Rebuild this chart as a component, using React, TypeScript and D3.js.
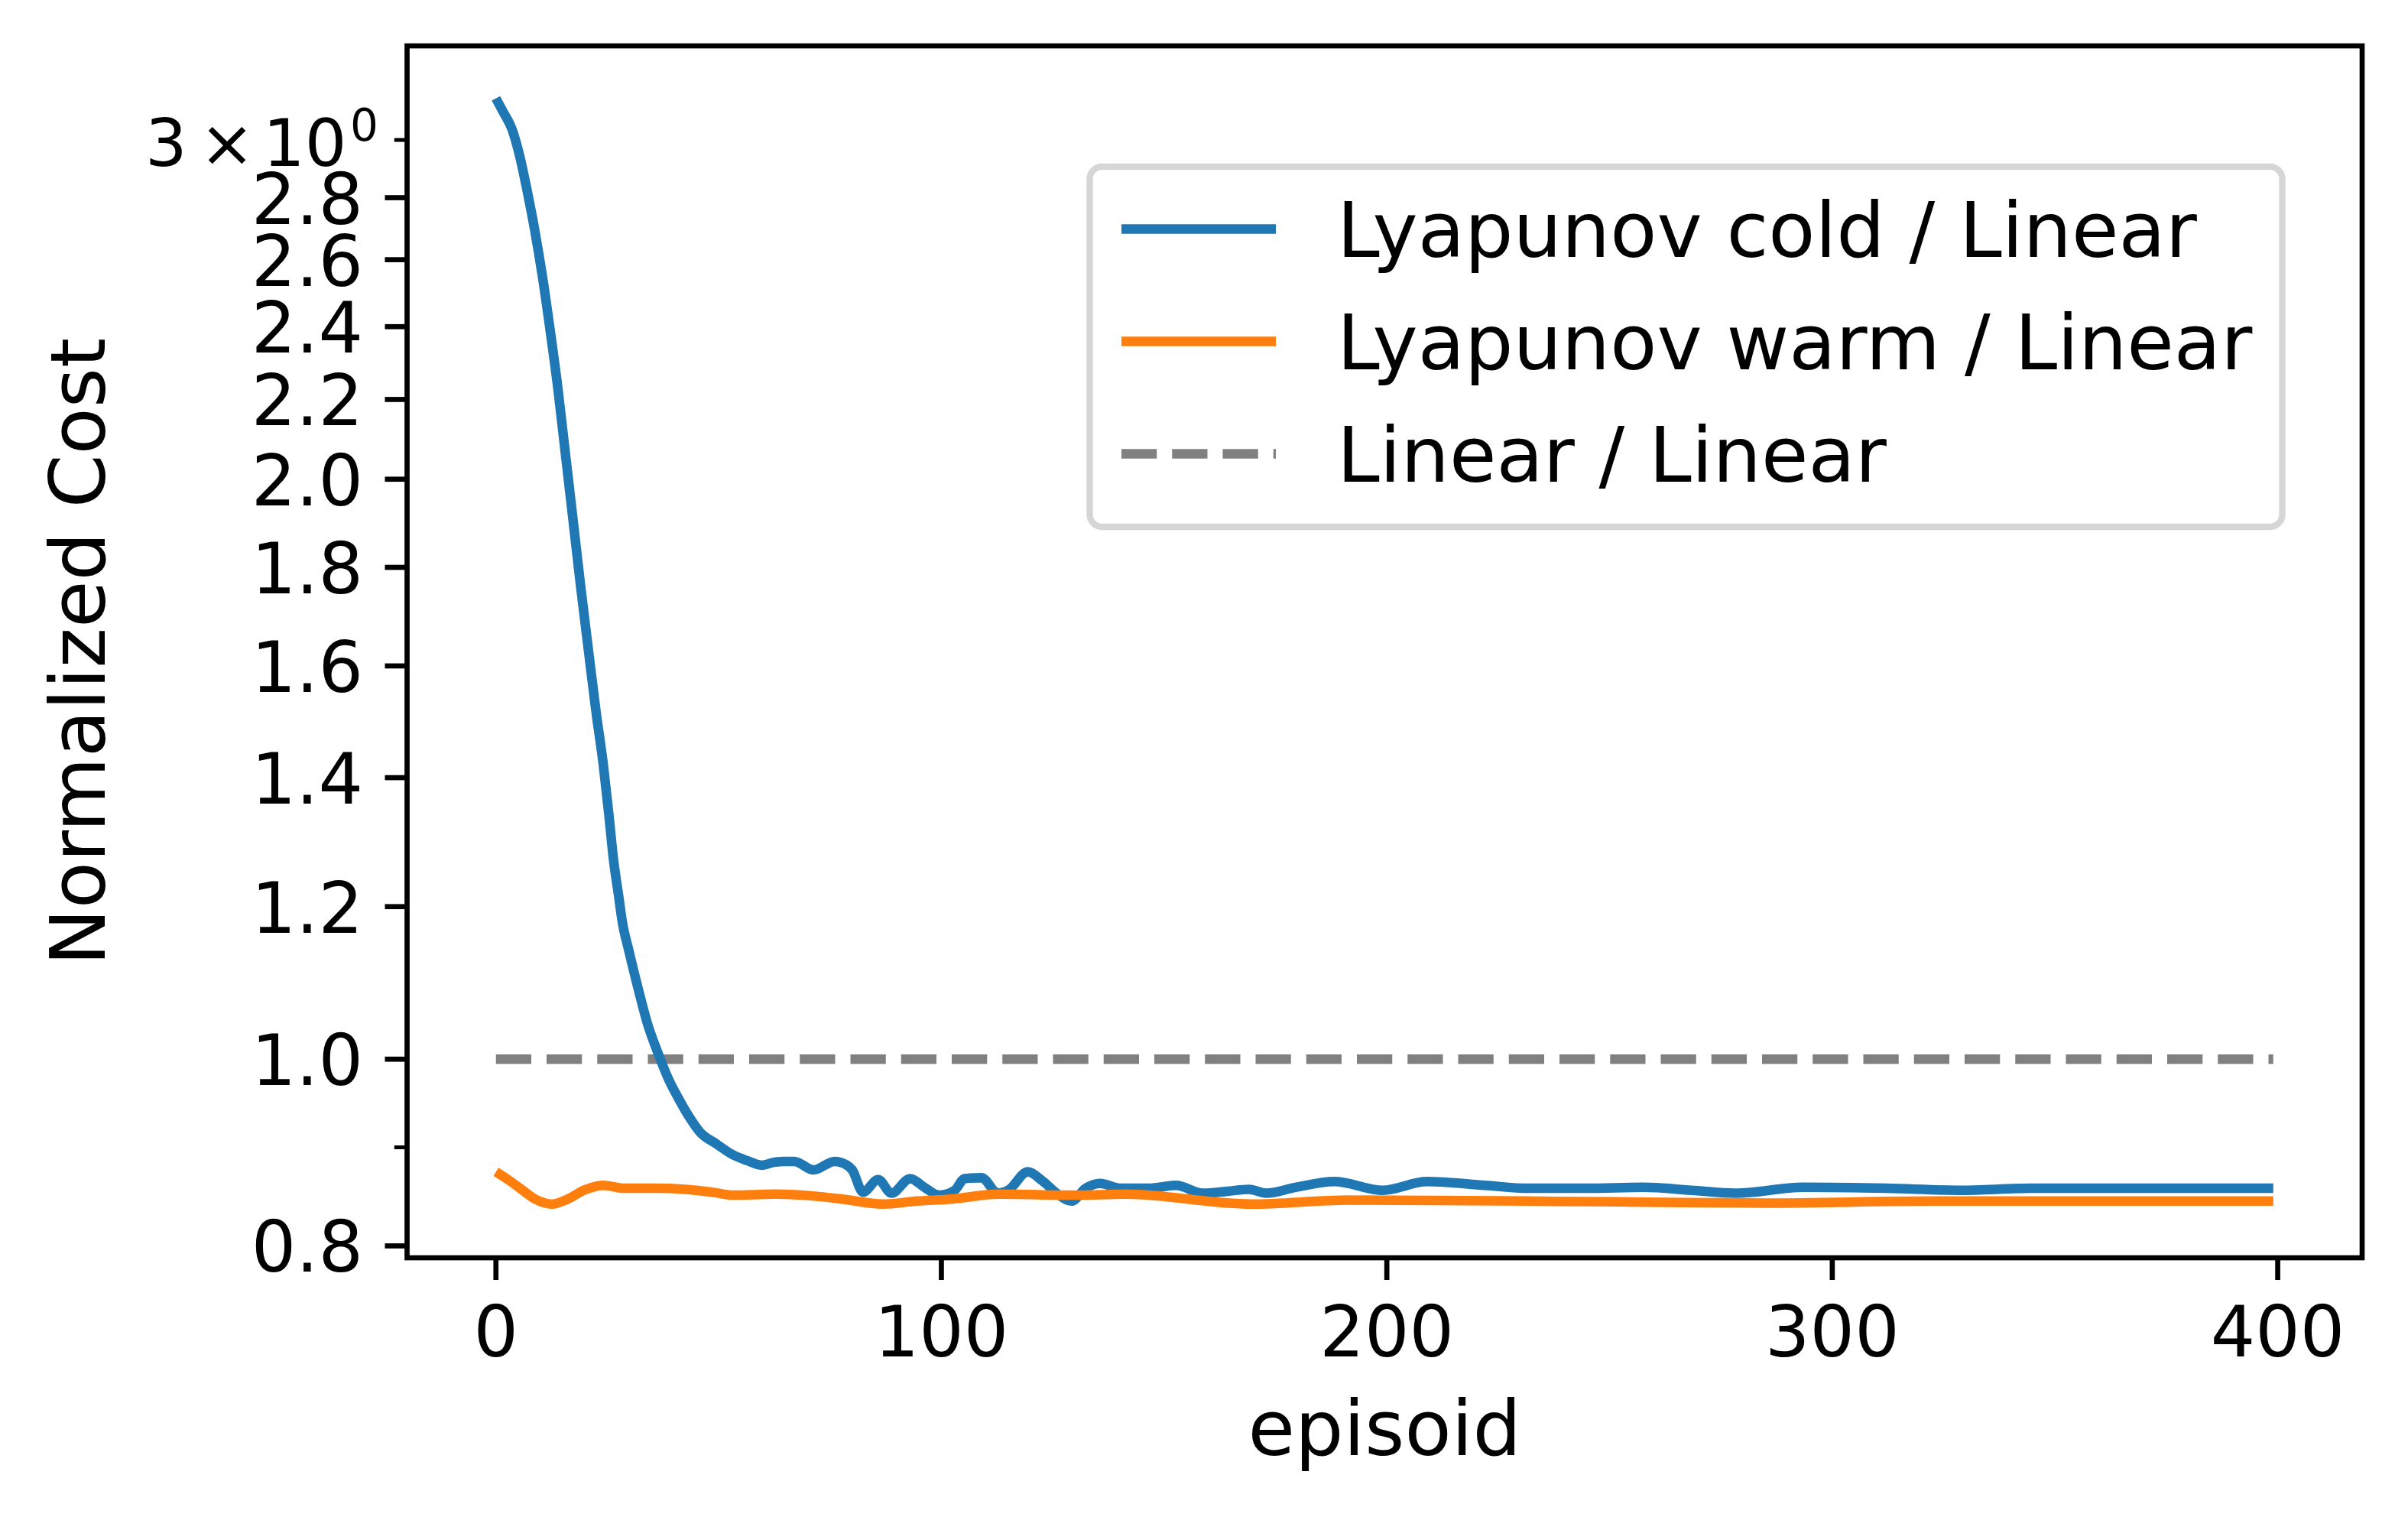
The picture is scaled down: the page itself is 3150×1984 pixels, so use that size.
import React from 'react'
import * as d3 from 'd3'

// values (episode -> normalized cost)
const coldEpisodes = [
  0, 1.6, 3.6, 5.3, 7.0, 8.7, 10.5, 12.2, 13.9, 15.6, 17.3, 19.0, 20.8, 22.5, 24.1, 25.3, 26.4, 27.6, 28.3,
  29.9, 31.8, 34.1, 36.4, 38.7, 41.0, 43.3, 45.9, 49.4, 53.2, 56.3, 59.7, 62.4, 64.6, 67, 71.3, 76, 78.8, 80,
  82.4, 85.8, 88.8, 93, 96.2, 99.5, 103, 105.2, 109, 112.7, 115, 119.4, 122.6, 125.9, 129.2, 132.4, 135.7,
  140.1, 146.6, 152.7, 158.7, 164.2, 169.1, 172.9, 179.5, 188.2, 199.1, 209, 222.1, 231.7, 245, 257.5, 268.4,
  278.2, 293.5, 312.1, 328.5, 344.9, 377.7, 399,
]
const coldCost = [
  3.153, 3.103, 3.039, 2.945, 2.824, 2.694, 2.543, 2.387, 2.23, 2.061, 1.906, 1.761, 1.628, 1.513, 1.422,
  1.343, 1.269, 1.213, 1.181, 1.137, 1.091, 1.042, 1.007, 0.977, 0.954, 0.934, 0.916, 0.904, 0.892, 0.886,
  0.881, 0.884, 0.885, 0.885, 0.876, 0.885, 0.881, 0.876, 0.853, 0.866, 0.852, 0.867, 0.858, 0.85, 0.855,
  0.867, 0.868, 0.852, 0.855, 0.874, 0.865, 0.852, 0.844, 0.857, 0.862, 0.857, 0.857, 0.86, 0.852, 0.854,
  0.856, 0.852, 0.858, 0.864, 0.855, 0.864, 0.86, 0.857, 0.857, 0.858, 0.855, 0.852, 0.858, 0.857, 0.855,
  0.857, 0.857, 0.857,
]
const warmEpisodes = [
  0, 2.7, 5.7, 8.8, 12.6, 15.6, 20.3, 24.1, 28.7, 35.6, 42.5, 48.6, 53.2, 62.4, 71.6, 77.7, 86.9, 94.5,
  102.2, 112.8, 130.2, 141.2, 169.6, 191.5, 231.7, 257.5, 284.8, 323, 399,
]
const warmCost = [
  0.874, 0.866, 0.856, 0.846, 0.841, 0.845, 0.856, 0.86, 0.857, 0.857, 0.856, 0.853, 0.85, 0.851, 0.849,
  0.846, 0.841, 0.844, 0.846, 0.851, 0.85, 0.851, 0.841, 0.845, 0.844, 0.843, 0.842, 0.844, 0.844,
]
const linearEpisodes = [0, 399]
const linearCost = [1, 1]

const xTicks = [0, 100, 200, 300, 400]
const yMajorTicks = [0.8, 1.0, 1.2, 1.4, 1.6, 1.8, 2.0, 2.2, 2.4, 2.6, 2.8]
const yMinorTicks = [0.9, 3]
const seriesLabels = ['Lyapunov cold / Linear', 'Lyapunov warm / Linear', 'Linear / Linear']
const seriesColors = ['#1f77b4', '#ff7f0e', '#808080']

const W = 3150
const H = 1984
const plot = { left: 532.5, right: 3090, top: 60, bottom: 1645 }
const font = 'DejaVu Sans, sans-serif'

export default function App() {
  const x = d3.scaleLinear().domain([-19.95, 418.95]).range([plot.left, plot.right])
  const y = d3.scaleLog().domain([0.7887, 3.357]).range([plot.bottom, plot.top])

  const line = d3
    .line<[number, number]>()
    .x((d) => x(d[0]))
    .y((d) => y(d[1]))
    .curve(d3.curveMonotoneX)

  const series = [
    { pts: coldEpisodes.map((e, i) => [e, coldCost[i]] as [number, number]), dash: undefined },
    { pts: warmEpisodes.map((e, i) => [e, warmCost[i]] as [number, number]), dash: undefined },
    { pts: linearEpisodes.map((e, i) => [e, linearCost[i]] as [number, number]), dash: '46.25,20' },
  ]
  const drawOrder = [2, 0, 1]

  const fmt = d3.format('.1f')
  const legend = { x: 1425.5, y: 218, w: 1560, h: 471 }

  return (
    <div style={{ position: 'absolute', left: 0, top: 0 }}>
      <svg width={W} height={H} viewBox={`0 0 ${W} ${H}`} style={{ display: 'block', background: '#fff' }}>
        <defs>
          <clipPath id="plot-clip">
            <rect x={plot.left} y={plot.top} width={plot.right - plot.left} height={plot.bottom - plot.top} />
          </clipPath>
        </defs>
        <rect x={0} y={0} width={W} height={H} fill="#fff" />

        <g clipPath="url(#plot-clip)">
          {drawOrder.map((i) => (
            <path
              key={`line-${i}`}
              d={line(series[i].pts) || ''}
              fill="none"
              stroke={seriesColors[i]}
              strokeWidth={12.5}
              strokeDasharray={series[i].dash}
            />
          ))}
        </g>

        {/* x axis */}
        {xTicks.map((t) => (
          <g key={`xt-${t}`}>
            <line x1={x(t)} x2={x(t)} y1={plot.bottom} y2={plot.bottom + 29} stroke="#000" strokeWidth={6.67} />
            <text x={x(t)} y={1774} textAnchor="middle" fontFamily={font} fontSize={92}>
              {t}
            </text>
          </g>
        ))}

        {/* y axis */}
        {yMajorTicks.map((t) => (
          <g key={`yt-${t}`}>
            <line x1={plot.left - 29} x2={plot.left} y1={y(t)} y2={y(t)} stroke="#000" strokeWidth={6.67} />
            <text x={475} y={y(t) + 34} textAnchor="end" fontFamily={font} fontSize={92}>
              {fmt(t)}
            </text>
          </g>
        ))}
        {yMinorTicks.map((t) => (
          <line key={`ym-${t}`} x1={plot.left - 16.7} x2={plot.left} y1={y(t)} y2={y(t)} stroke="#000" strokeWidth={5} />
        ))}
        <text y={y(3) + 33.5} fontFamily={font} fontSize={86}>
          <tspan x={190}>3</tspan>
          <tspan x={261}>×</tspan>
          <tspan x={344}>10</tspan>
          <tspan x={458} dy={-33} fontSize={58}>0</tspan>
        </text>

        {/* spines */}
        <rect
          x={plot.left}
          y={plot.top}
          width={plot.right - plot.left}
          height={plot.bottom - plot.top}
          fill="none"
          stroke="#000"
          strokeWidth={6.67}
          strokeLinejoin="miter"
          strokeLinecap="square"
        />

        {/* axis labels */}
        <text x={(plot.left + plot.right) / 2} y={1903} textAnchor="middle" fontFamily={font} fontSize={100}>
          episoid
        </text>
        <text
          transform={`translate(137, ${(plot.top + plot.bottom) / 2}) rotate(-90)`}
          textAnchor="middle"
          fontFamily={font}
          fontSize={100}
        >
          Normalized Cost
        </text>

        {/* legend */}
        <rect
          x={legend.x}
          y={legend.y}
          width={legend.w}
          height={legend.h}
          rx={16}
          ry={16}
          fill="#fff"
          fillOpacity={0.8}
          stroke="#d6d6d6"
          strokeWidth={8.33}
        />
        {seriesLabels.map((label, i) => {
          const ly = legend.y + 81.5 + i * 147
          return (
            <g key={`lg-${i}`}>
              <line
                x1={1467}
                x2={1669}
                y1={ly}
                y2={ly}
                stroke={seriesColors[i]}
                strokeWidth={12.5}
                strokeDasharray={series[i].dash}
              />
              <text x={1749} y={ly + 36.5} fontFamily={font} fontSize={100}>
                {label}
              </text>
            </g>
          )
        })}
      </svg>
    </div>
  )
}
